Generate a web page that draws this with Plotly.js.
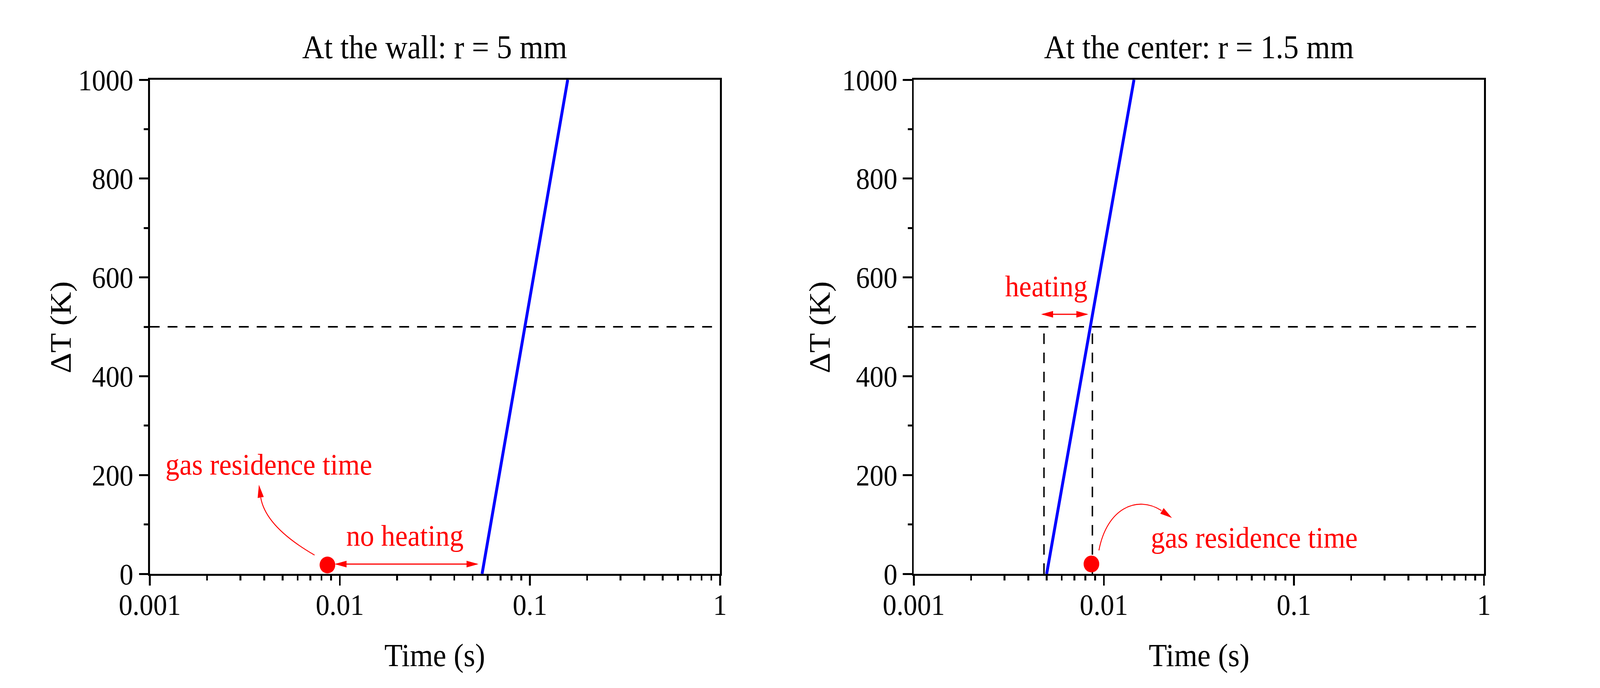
<!DOCTYPE html>
<html>
<head>
<meta charset="utf-8">
<script src="https://cdn.plot.ly/plotly-3.0.1.min.js"></script>
<style>html,body{margin:0;padding:0;background:#fff;overflow:hidden}</style>
</head>
<body>
<div id="chart" style="width:4400px;height:1760px;transform-origin:0 0"></div>
<script>
// temperature rise at the wall, r = 5 mm
const wallTime = [0.056, 0.094, 0.158];
const wallDT = [0, 500, 1000];
// temperature rise at the center, r = 1.5 mm
const centerTime = [0.0050, 0.0085, 0.0144];
const centerDT = [0, 500, 1000];
// gas residence time marker
const resTime = [0.0086];
const resWallDT = [18];
const resCenterDT = [20];
// 500 K threshold and the heating window at the center
const threshold = 500;
const heatTimes = [0.00484, 0.0087];

const xTicks = [0.001, 0.01, 0.1, 1];
const xTickText = ['0.001', '0.01', '0.1', '1'];
const yTicks = [0, 200, 400, 600, 800, 1000];

const W = 4400, H = 1760;
const px = x => x / W;
const py = y => 1 - y / H;
const FONT = 'Liberation Serif, Times New Roman, serif';

let minorX = [];
[0.001, 0.01, 0.1].forEach(d => { for (let k = 2; k <= 9; k++) minorX.push(k * d); });

function xAxis(domain, anchor) {
  return {
    domain: domain, anchor: anchor, type: 'log', range: [-3, 0],
    tickmode: 'array', tickvals: xTicks, ticktext: xTickText,
    ticks: 'outside', ticklen: 25, tickwidth: 5, tickcolor: 'black', ticklabelstandoff: -16,
    showline: true, linewidth: 5, linecolor: 'black', mirror: true,
    showgrid: false, zeroline: false,
    tickfont: {family: FONT, size: 76, color: 'black'},
    minor: {tickvals: minorX, ticks: 'outside', ticklen: 12, tickwidth: 5, tickcolor: 'black', showgrid: false}
  };
}
function yAxis(anchor) {
  return {
    domain: [292 / H, 1556 / H], anchor: anchor, range: [0, 1000],
    tickmode: 'array', tickvals: yTicks,
    ticks: 'outside', ticklen: 25, tickwidth: 5, tickcolor: 'black',
    showline: true, linewidth: 5, linecolor: 'black', mirror: true,
    showgrid: false, zeroline: false,
    tickfont: {family: FONT, size: 76, color: 'black'},
    minor: {dtick: 100, ticks: 'outside', ticklen: 12, tickwidth: 5, tickcolor: 'black', showgrid: false}
  };
}

const dashStyle = {color: 'black', width: 4, dash: '27px,22px'};

const traces = [
  {x: [0.001, 1], y: [threshold, threshold], xaxis: 'x', yaxis: 'y', mode: 'lines', line: dashStyle},
  {x: wallTime, y: wallDT, xaxis: 'x', yaxis: 'y', mode: 'lines', line: {color: '#0000ff', width: 8}},
  {x: resTime, y: resWallDT, xaxis: 'x', yaxis: 'y', mode: 'markers', cliponaxis: false,
   marker: {color: '#ff0000', size: 43}},

  {x: [0.001, 1], y: [threshold, threshold], xaxis: 'x2', yaxis: 'y2', mode: 'lines', line: dashStyle},
  {x: [heatTimes[0], heatTimes[0]], y: [0, threshold], xaxis: 'x2', yaxis: 'y2', mode: 'lines', line: dashStyle},
  {x: [heatTimes[1], heatTimes[1]], y: [0, threshold], xaxis: 'x2', yaxis: 'y2', mode: 'lines', line: dashStyle},
  {x: centerTime, y: centerDT, xaxis: 'x2', yaxis: 'y2', mode: 'lines', line: {color: '#0000ff', width: 8}},
  {x: resTime, y: resCenterDT, xaxis: 'x2', yaxis: 'y2', mode: 'markers', cliponaxis: false,
   marker: {color: '#ff0000', size: 43}}
];

// arrowhead as a filled triangle, pixel positions converted to paper
function head(tipX, tipY, fromX, fromY) {
  const dx = tipX - fromX, dy = tipY - fromY, L = Math.hypot(dx, dy);
  const ux = dx / L, uy = dy / L, len = 33, hw = 8.5;
  const bx = tipX - ux * len, by = tipY - uy * len;
  const p = [[tipX, tipY], [bx - uy * hw, by + ux * hw], [bx + uy * hw, by - ux * hw]];
  return {type: 'path', xref: 'paper', yref: 'paper', fillcolor: '#ff0000', line: {width: 0},
          path: 'M' + p.map(q => px(q[0]) + ',' + py(q[1])).join('L') + 'Z'};
}
function shaft(x0, y0, x1, y1) {
  return {type: 'line', xref: 'paper', yref: 'paper', x0: px(x0), y0: py(y0), x1: px(x1), y1: py(y1),
          line: {color: '#ff0000', width: 3}};
}
function curve(pts) {
  const c = pts.map(q => px(q[0]) + ',' + py(q[1]));
  const cmd = pts.length === 3 ? 'Q' : 'C';
  return {type: 'path', xref: 'paper', yref: 'paper', line: {color: '#ff0000', width: 2.5},
          path: 'M' + c[0] + cmd + c.slice(1).join(' ')};
}

const shapes = [
  // "no heating" double arrow
  shaft(925, 1443, 1311, 1443), head(920, 1443, 1000, 1443), head(1316, 1443, 1200, 1443),
  // curved arrow, left panel
  curve([[865, 1420], [731, 1348], [717, 1273]]), head(712, 1240, 717, 1273),
  // "heating" double arrow
  shaft(2868, 804, 2988, 804), head(2863, 804, 2950, 804), head(2993, 804, 2900, 804),
  // curved arrow, right panel
  curve([[3022, 1408], [3044, 1300], [3127, 1266], [3194, 1306]]), head(3223, 1325, 3194, 1306)
];

function label(text, x, y, color, size, angle) {
  return {text: text, xref: 'paper', yref: 'paper', x: px(x), y: py(y), xanchor: 'center', yanchor: 'middle',
          textangle: angle || 0, showarrow: false, font: {family: FONT, size: size, color: color}};
}

const annotations = [
  label('At the wall: r = 5 mm', 1196, 121, 'black', 84),
  label('At the center: r = 1.5 mm', 3297, 121, 'black', 84),
  label('Time (s)', 1196, 1676, 'black', 82),
  label('Time (s)', 3297, 1676, 'black', 82),
  label('ΔT (K)', 166, 837, 'black', 82, -90),
  label('ΔT (K)', 2254, 837, 'black', 82, -90),
  label('gas residence time', 739, 1188, '#ff0000', 77),
  label('no heating', 1113, 1370, '#ff0000', 77),
  label('heating', 2877, 732, '#ff0000', 77),
  label('gas residence time', 3449, 1375, '#ff0000', 77)
];

const layout = {
  width: W, height: H,
  margin: {l: 0, r: 0, t: 0, b: 0},
  paper_bgcolor: 'white', plot_bgcolor: 'white',
  showlegend: false,
  font: {family: FONT, color: 'black'},
  xaxis: xAxis([412 / W, 1980 / W], 'y'),
  yaxis: yAxis('x'),
  xaxis2: xAxis([2513 / W, 4081 / W], 'y2'),
  yaxis2: yAxis('x2'),
  shapes: shapes,
  annotations: annotations
};

Plotly.newPlot('chart', traces, layout, {staticPlot: true});

// the window can be narrower than the 4400 px drawing; squeeze it to fit the width
const fit = window.innerWidth / W;
if (fit < 1) document.getElementById('chart').style.transform = 'scale(' + fit + ',1)';
</script>
</body>
</html>
